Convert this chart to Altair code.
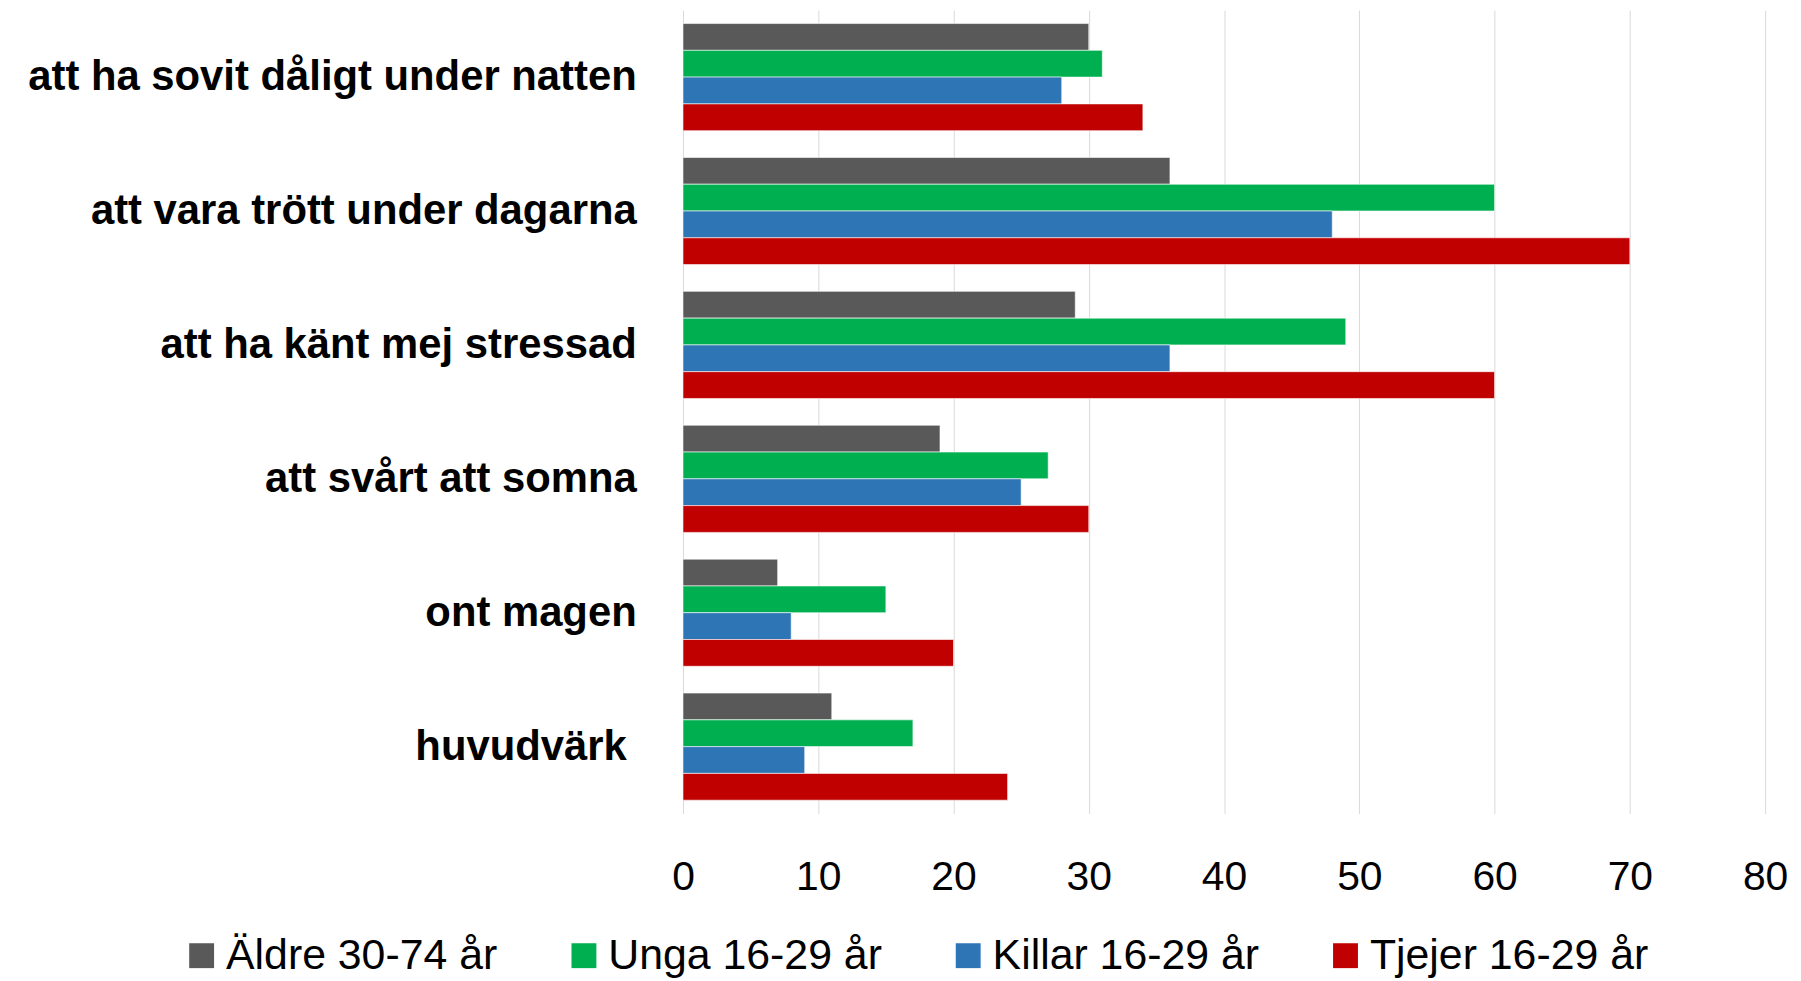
import altair as alt
import pandas as pd

categories = [
    "att ha sovit dåligt under natten",
    "att vara trött under dagarna",
    "att ha känt mej stressad",
    "att svårt att somna",
    "ont magen",
    "huvudvärk",
]
series = ["Äldre 30-74 år", "Unga 16-29 år", "Killar 16-29 år", "Tjejer 16-29 år"]
aldre = [30, 36, 29, 19, 7, 11]
unga = [31, 60, 49, 27, 15, 17]
killar = [28, 48, 36, 25, 8, 9]
tjejer = [34, 70, 60, 30, 20, 24]
colors = ["#595959", "#00B050", "#2E75B6", "#C00000"]
x_ticks = [0, 10, 20, 30, 40, 50, 60, 70, 80]

rows = []
for s, vals in zip(series, [aldre, unga, killar, tjejer]):
    for c, v in zip(categories, vals):
        rows.append({"kategori": c, "grupp": s, "varde": v})
df = pd.DataFrame(rows)

FONT = "Liberation Sans"

chart = (
    alt.Chart(df)
    .mark_bar(stroke="white", strokeWidth=1, strokeOpacity=0.6)
    .encode(
        y=alt.Y(
            "kategori:N",
            sort=categories,
            scale=alt.Scale(paddingInner=0.2, paddingOuter=0.1),
            axis=alt.Axis(
                title=None,
                domain=False,
                ticks=False,
                tickSize=0,
                grid=False,
                labelFont=FONT,
                labelFontSize=42,
                labelFontWeight="bold",
                labelColor="black",
                labelPadding={
                    "condition": {"test": "datum.value == 'huvudvärk'", "value": 57},
                    "value": 47,
                },
                labelLimit=800,
            ),
        ),
        yOffset=alt.YOffset("grupp:N", scale=alt.Scale(domain=series, paddingInner=0, paddingOuter=0)),
        x=alt.X(
            "varde:Q",
            scale=alt.Scale(domain=[0, 80], nice=False),
            axis=alt.Axis(
                title=None,
                values=x_ticks,
                domain=False,
                ticks=False,
                tickSize=0,
                grid=True,
                gridColor="#D9D9D9",
                gridWidth=1,
                labelFont=FONT,
                labelFontSize=41,
                labelColor="black",
                labelPadding=44,
                labelFlush=False,
                labelOverlap=False,
            ),
        ),
        color=alt.Color(
            "grupp:N",
            scale=alt.Scale(domain=series, range=colors),
            legend=alt.Legend(
                title=None,
                orient="none",
                direction="horizontal",
                legendX=-505,
                legendY=928,
                padding=0,
                symbolType="square",
                symbolSize=625,
                symbolStrokeWidth=0,
                symbolOpacity=1,
                labelFont=FONT,
                labelFontSize=43,
                labelColor="black",
                labelOffset=3,
                labelLimit=600,
                columnPadding=65,
                columns=4,
            ),
        ),
    )
    .properties(
        width=1087,
        height=807,
        autosize=alt.AutoSizeParams(type="none"),
        padding={"left": 678, "top": 0, "right": 28, "bottom": 166},
    )
    .configure_view(stroke=None)
)

chart.save("out.html", embed_options={"renderer": "svg", "actions": False})
